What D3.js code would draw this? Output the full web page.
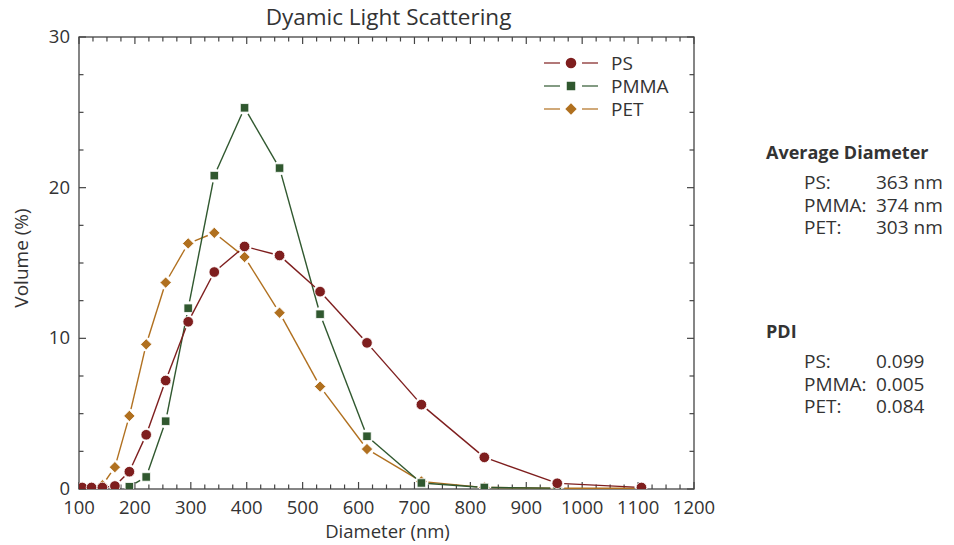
<!DOCTYPE html>
<html>
<head>
<meta charset="utf-8">
<script src="https://cdn.jsdelivr.net/npm/d3@7"></script>
<style>
  body { margin: 0; background: #fff; }
  text { font-family: "Open Sans", sans-serif; fill: #333; }
  .frame line, .frame path { stroke: #444; }
</style>
</head>
<body>
<div id="chart"></div>
<script>
// DLS volume distribution
var diameters = [105.7, 122.4, 141.8, 164.2, 190.1, 220.2, 255.0, 295.3, 342.0, 396.1, 458.7, 531.2, 615.1, 712.4, 825.0, 955.4, 1106];
var psValues   = [0.1, 0.1, 0.1, 0.2, 1.15, 3.6, 7.2, 11.1, 14.4, 16.1, 15.5, 13.1, 9.7, 5.6, 2.1, 0.38, 0.1];
var pmmaValues = [null, null, null, null, 0.15, 0.8, 4.5, 12.0, 20.8, 25.3, 21.3, 11.6, 3.5, 0.4, 0.1, 0.05, null];
var petValues  = [0.1, 0.1, 0.25, 1.45, 4.85, 9.6, 13.7, 16.3, 17.0, 15.4, 11.7, 6.8, 2.65, 0.5, 0.1, 0.05, 0.05];

var seriesNames = ["PS", "PMMA", "PET"];
var xTicks = [100, 200, 300, 400, 500, 600, 700, 800, 900, 1000, 1100, 1200];
var yTicks = [0, 10, 20, 30];

var avgLabels = ["PS:", "PMMA:", "PET:"];
var avgValues = ["363 nm", "374 nm", "303 nm"];
var pdiValues = ["0.099", "0.005", "0.084"];

var margin = {top: 37, right: 260, bottom: 56, left: 79},
    width = 954 - margin.left - margin.right,
    height = 545 - margin.top - margin.bottom;

var colors = {PS: "#7e1e1e", PMMA: "#30582f", PET: "#b0701f"};
var shapes = {PS: d3.symbolCircle, PMMA: d3.symbolSquare, PET: d3.symbolSquare};
var sizes = {PS: 88, PMMA: 72, PET: 64};
var rotate = {PS: 0, PMMA: 0, PET: 45};

var x = d3.scaleLinear().domain([100, 1200]).range([0, width]);
var y = d3.scaleLinear().domain([0, 30]).range([height, 0]);

var svg = d3.select("#chart").append("svg")
    .attr("width", 954)
    .attr("height", 545)
  .append("g")
    .attr("transform", "translate(" + margin.left + "," + margin.top + ")");

svg.append("clipPath").attr("id", "clip")
  .append("rect").attr("width", width).attr("height", height);

// frame with inward ticks
var xMinor = d3.range(100, 1201, 25);
var yMinor = d3.range(0, 30.1, 2.5);

function tickLen(v, step) { return Math.abs(v / step - Math.round(v / step)) < 1e-6 ? 7 : 4.5; }

var frame = svg.append("g").attr("class", "frame");
frame.append("rect")
    .attr("width", width).attr("height", height)
    .attr("fill", "none").attr("stroke", "#444").attr("stroke-width", 1.3);

frame.selectAll(".xb").data(xMinor).enter().append("line")
    .attr("x1", function(d) { return x(d); }).attr("x2", function(d) { return x(d); })
    .attr("y1", height).attr("y2", function(d) { return height - tickLen(d, 100); })
    .attr("stroke-width", 1.2);
frame.selectAll(".xt").data(xMinor).enter().append("line")
    .attr("x1", function(d) { return x(d); }).attr("x2", function(d) { return x(d); })
    .attr("y1", 0).attr("y2", function(d) { return tickLen(d, 100); })
    .attr("stroke-width", 1.2);
frame.selectAll(".yl").data(yMinor).enter().append("line")
    .attr("y1", function(d) { return y(d); }).attr("y2", function(d) { return y(d); })
    .attr("x1", 0).attr("x2", function(d) { return tickLen(d, 10); })
    .attr("stroke-width", 1.2);
frame.selectAll(".yr").data(yMinor).enter().append("line")
    .attr("y1", function(d) { return y(d); }).attr("y2", function(d) { return y(d); })
    .attr("x1", width).attr("x2", function(d) { return width - tickLen(d, 10); })
    .attr("stroke-width", 1.2);

// tick labels
svg.selectAll(".xl").data(xTicks).enter().append("text")
    .attr("x", function(d) { return x(d); })
    .attr("y", height + 25)
    .attr("text-anchor", "middle")
    .style("font-size", "18.5px")
    .text(function(d) { return d; });

svg.selectAll(".ylab").data(yTicks).enter().append("text")
    .attr("x", -9)
    .attr("y", function(d) { return y(d); })
    .attr("dy", "0.32em")
    .attr("text-anchor", "end")
    .style("font-size", "18.5px")
    .text(function(d) { return d; });

svg.append("text")
    .attr("x", width / 2 + 1)
    .attr("y", height + 49)
    .attr("text-anchor", "middle")
    .style("font-size", "18.5px")
    .text("Diameter (nm)");

svg.append("text")
    .attr("transform", "rotate(-90)")
    .attr("x", -height / 2 + 5)
    .attr("y", -51)
    .attr("text-anchor", "middle")
    .style("font-size", "19px")
    .text("Volume (%)");

svg.append("text")
    .attr("x", width / 2 + 2)
    .attr("y", -12)
    .attr("text-anchor", "middle")
    .style("font-size", "22.5px")
    .text("Dyamic Light Scattering");

// series
var seriesData = {PS: psValues, PMMA: pmmaValues, PET: petValues};
var gap = 7;

var plot = svg.append("g").attr("clip-path", "url(#clip)");

["PET", "PMMA", "PS"].forEach(function(name) {
  var pts = [];
  seriesData[name].forEach(function(v, i) {
    if (v !== null) pts.push({d: diameters[i], v: v});
  });

  var segs = d3.pairs(pts);
  plot.selectAll(".seg-" + name).data(segs).enter().append("line")
      .each(function(p) {
        var x1 = x(p[0].d), y1 = y(p[0].v), x2 = x(p[1].d), y2 = y(p[1].v);
        var len = Math.hypot(x2 - x1, y2 - y1);
        var ux = (x2 - x1) / len, uy = (y2 - y1) / len;
        var g = len > 2 * gap + 1 ? gap : len / 2 - 0.5;
        d3.select(this)
          .attr("x1", x1 + ux * g).attr("y1", y1 + uy * g)
          .attr("x2", x2 - ux * g).attr("y2", y2 - uy * g);
      })
      .attr("stroke", colors[name])
      .attr("stroke-width", 1.4);

  plot.selectAll(".pt-" + name).data(pts).enter().append("path")
      .attr("d", d3.symbol().type(shapes[name]).size(sizes[name]))
      .attr("transform", function(p) {
        return "translate(" + x(p.d) + "," + y(p.v) + ") rotate(" + rotate[name] + ")";
      })
      .attr("fill", colors[name])
      .attr("stroke", "#fff")
      .attr("stroke-width", 0.8);
});

// legend
var legend = svg.append("g").attr("transform", "translate(" + (544 - margin.left) + ",26)");
seriesNames.forEach(function(name, i) {
  var row = legend.append("g").attr("transform", "translate(0," + (i * 23) + ")");
  row.append("line").attr("x1", 0).attr("x2", 16).attr("stroke", colors[name]).attr("stroke-width", 1.2);
  row.append("line").attr("x1", 38).attr("x2", 54).attr("stroke", colors[name]).attr("stroke-width", 1.2);
  row.append("path")
      .attr("d", d3.symbol().type(shapes[name]).size(sizes[name]))
      .attr("transform", "translate(27,0) rotate(" + rotate[name] + ")")
      .attr("fill", colors[name]);
  row.append("text")
      .attr("x", 67)
      .attr("dy", "0.36em")
      .style("font-size", "19px")
      .text(name);
});

// side notes
var notes = svg.append("g").attr("transform", "translate(" + (766 - margin.left) + ",0)");
notes.append("text").attr("y", 122).style("font-size", "18px").style("font-weight", "bold")
    .text("Average Diameter");
avgLabels.forEach(function(lab, i) {
  notes.append("text").attr("x", 38).attr("y", 152 + i * 22.6).style("font-size", "19px").text(lab);
  notes.append("text").attr("x", 110).attr("y", 152 + i * 22.6).style("font-size", "19px").text(avgValues[i]);
});
notes.append("text").attr("y", 301).style("font-size", "18px").style("font-weight", "bold")
    .text("PDI");
avgLabels.forEach(function(lab, i) {
  notes.append("text").attr("x", 38).attr("y", 331 + i * 22.6).style("font-size", "19px").text(lab);
  notes.append("text").attr("x", 110).attr("y", 331 + i * 22.6).style("font-size", "19px").text(pdiValues[i]);
});
</script>
</body>
</html>
